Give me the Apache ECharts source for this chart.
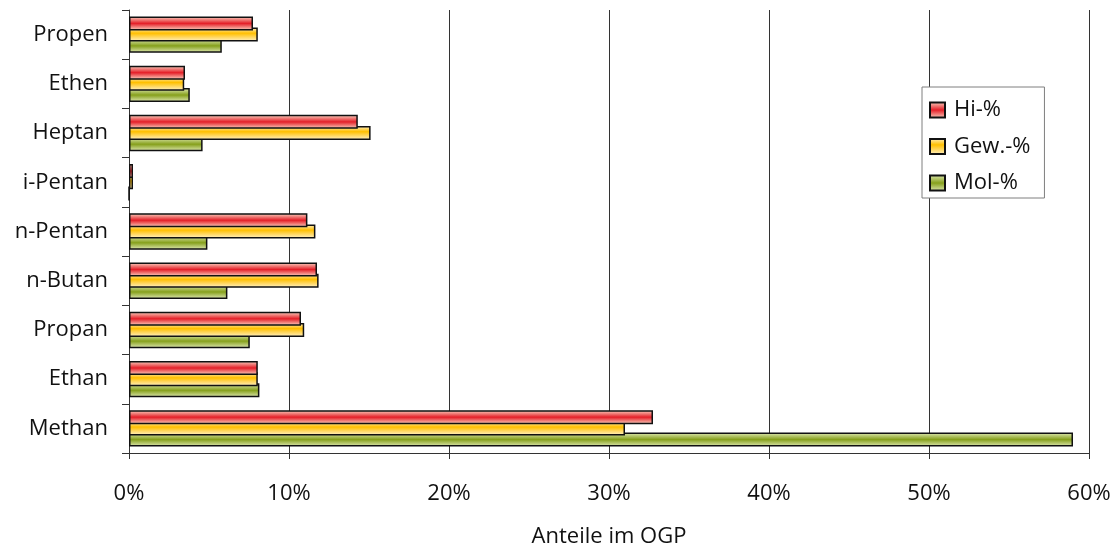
<!DOCTYPE html>
<html>
<head>
<meta charset="utf-8">
<script src="https://cdn.jsdelivr.net/npm/echarts@6/dist/echarts.min.js"></script>
<style>
  html, body { margin: 0; padding: 0; background: #ffffff; }
  #chart { width: 1118px; height: 550px; }
</style>
</head>
<body>
<div id="chart"></div>
<script>
// Components of the gas (bottom to top on the category axis)
const categories = ['Methan', 'Ethan', 'Propan', 'n-Butan', 'n-Pentan', 'i-Pentan', 'Heptan', 'Ethen', 'Propen'];

// Shares in percent
const hiValues  = [32.75, 8.05, 10.75, 11.75, 11.15, 0.25, 14.3, 3.5, 7.75];
const gewValues = [31.0, 8.05, 10.95, 11.85, 11.65, 0.25, 15.1, 3.45, 8.05];
const molValues = [59.0, 8.15, 7.55, 6.15, 4.9, 0, 4.6, 3.8, 5.8];

const seriesNames = ['Hi-%', 'Gew.-%', 'Mol-%'];
const axisName = 'Anteile im OGP';

const FONT = '"Open Sans", "Noto Sans", sans-serif';
const TEXT = '#111111';
const FS = 22;

// Banded fill: light edges, saturated centre line
function band(edge, mid, centre) {
  return new echarts.graphic.LinearGradient(0, 0, 0, 1, [
    { offset: 0, color: edge },
    { offset: centre, color: mid },
    { offset: 1, color: edge }
  ]);
}

const fills = [
  band('#fbd8c6', '#e41f28', 0.5),
  band('#fff2cc', '#ffbf00', 0.4),
  band('#e2ebb8', '#86a01c', 0.5)
];

function barSeries(name, data, fill, z) {
  return {
    name: name,
    type: 'bar',
    data: data,
    barWidth: 14,
    barGap: '-20%',
    z: z,
    itemStyle: { color: fill, borderColor: '#111111', borderWidth: 1.5 },
    emphasis: { disabled: true }
  };
}

const chart = echarts.init(document.getElementById('chart'), null, { renderer: 'canvas' });
chart.setOption({
  animation: false,
  backgroundColor: '#ffffff',
  textStyle: { fontFamily: FONT, color: TEXT },
  grid: { left: 129, right: 29, top: 10, bottom: 97, containLabel: false, outerBoundsMode: 'none' },
  legend: {
    data: seriesNames,
    orient: 'vertical',
    left: 922,
    top: 87,
    padding: [12, 14, 4, 7],
    itemWidth: 15,
    itemHeight: 15,
    itemGap: 14.5,
    backgroundColor: '#ffffff',
    borderColor: '#7f7f7f',
    borderWidth: 1,
    borderRadius: 0,
    icon: 'rect',
    textStyle: { fontFamily: FONT, fontSize: FS, lineHeight: 22, color: TEXT, padding: [0, 0, 0, 4] }
  },
  xAxis: {
    type: 'value',
    min: 0,
    max: 60,
    interval: 10,
    name: axisName,
    nameLocation: 'middle',
    nameGap: 73,
    nameTextStyle: { fontFamily: FONT, fontSize: FS, color: TEXT },
    axisLine: { show: true, lineStyle: { color: '#333333', width: 1 } },
    axisTick: { show: true, length: 6, lineStyle: { color: '#333333' } },
    axisLabel: { formatter: '{value}%', margin: 30, fontFamily: FONT, fontSize: FS, color: TEXT },
    splitLine: { show: true, lineStyle: { color: '#333333', width: 1 } }
  },
  yAxis: {
    type: 'category',
    data: categories,
    axisLine: { show: true, lineStyle: { color: '#333333', width: 1 } },
    axisTick: { show: true, length: 7, lineStyle: { color: '#333333' } },
    axisLabel: { margin: 21, fontFamily: FONT, fontSize: FS, color: TEXT },
    splitLine: { show: false }
  },
  series: [
    barSeries(seriesNames[0], hiValues, fills[0], 4),
    barSeries(seriesNames[1], gewValues, fills[1], 3),
    barSeries(seriesNames[2], molValues, fills[2], 2)
  ]
});
</script>
</body>
</html>
